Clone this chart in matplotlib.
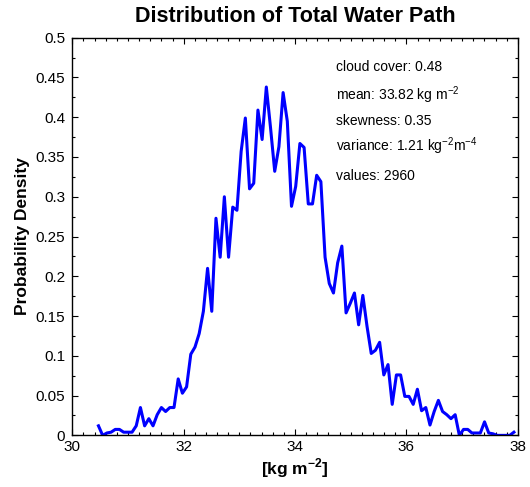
import numpy as np
import matplotlib
matplotlib.use("Agg")
import matplotlib.pyplot as plt
from matplotlib.ticker import MultipleLocator

plt.rcParams['font.family'] = ['Liberation Sans', 'DejaVu Sans']
plt.rcParams['mathtext.fontset'] = 'custom'
plt.rcParams['mathtext.rm'] = 'Liberation Sans'
plt.rcParams['mathtext.bf'] = 'Liberation Sans:bold'

# Total water path histogram (bin centres) and probability density
twp = np.linspace(30.47, 37.93, 100)
density = [
    0.012, 0.0, 0.003, 0.004, 0.0075, 0.0075, 0.004, 0.004, 0.004, 0.012,
    0.035, 0.012, 0.021, 0.012, 0.026, 0.035, 0.030, 0.035, 0.035, 0.071,
    0.053, 0.061, 0.102, 0.111, 0.128, 0.156, 0.210, 0.156, 0.273, 0.224,
    0.300, 0.224, 0.287, 0.283, 0.357, 0.399, 0.310, 0.317, 0.409, 0.372,
    0.438, 0.387, 0.332, 0.363, 0.431, 0.395, 0.288, 0.313, 0.367, 0.362,
    0.291, 0.291, 0.327, 0.319, 0.224, 0.191, 0.179, 0.217, 0.238, 0.154,
    0.166, 0.179, 0.139, 0.176, 0.137, 0.103, 0.107, 0.117, 0.076, 0.089,
    0.039, 0.076, 0.076, 0.049, 0.049, 0.039, 0.058, 0.031, 0.035, 0.013,
    0.030, 0.044, 0.030, 0.026, 0.021, 0.026, 0.0, 0.0075, 0.0075, 0.003,
    0.003, 0.003, 0.017, 0.003, 0.002, 0.0, 0.0, 0.0, 0.0, 0.004,
]

stats_lines = [
    "cloud cover: 0.48",
    "mean: 33.82 kg m$^{-2}$",
    "skewness: 0.35",
    "variance: 1.21 kg$^{-2}$m$^{-4}$",
    "values: 2960",
]
x_ticks = [30, 32, 34, 36, 38]
y_ticks = [0, 0.05, 0.1, 0.15, 0.2, 0.25, 0.3, 0.35, 0.4, 0.45, 0.5]
y_ticklabels = ["0", "0.05", "0.1", "0.15", "0.2", "0.25", "0.3", "0.35", "0.4", "0.45", "0.5"]

fig = plt.figure(figsize=(5.30, 4.87), dpi=100)
ax = fig.add_axes([0.1364, 0.106, 0.8406, 0.8166])

ax.plot(twp, density, color=(0, 0, 1), linewidth=2.2)

ax.set_xlim(30, 38)
ax.set_ylim(0, 0.5)
ax.set_xticks(x_ticks)
ax.set_xticklabels([str(t) for t in x_ticks])
ax.set_yticks(y_ticks)
ax.set_yticklabels(y_ticklabels)
ax.xaxis.set_minor_locator(MultipleLocator(0.2))
ax.yaxis.set_minor_locator(MultipleLocator(0.025))
ax.tick_params(which='both', direction='in', top=True, right=True,
               labelsize=11, width=0.8)
ax.tick_params(axis='x', which='both', pad=3)
ax.tick_params(axis='y', which='both', pad=5)
ax.tick_params(which='major', length=4)
ax.tick_params(which='minor', length=2.5)
for s in ax.spines.values():
    s.set_linewidth(1.0)

ax.set_title("Distribution of Total Water Path", fontsize=15.5, fontweight='bold', pad=11)
ax.set_xlabel("[kg m$^{\\mathbf{-2}}$]", fontsize=12.5, fontweight='bold', labelpad=2)
ax.set_ylabel("Probability Density", fontsize=12.5, fontweight='bold', labelpad=4)

ys = [0.926, 0.856, 0.790, 0.727, 0.652]
for txt, yy in zip(stats_lines, ys):
    ax.text(0.593, yy, txt, transform=ax.transAxes, fontsize=10,
            ha='left', va='center')

fig.savefig("out.png", dpi=100)
